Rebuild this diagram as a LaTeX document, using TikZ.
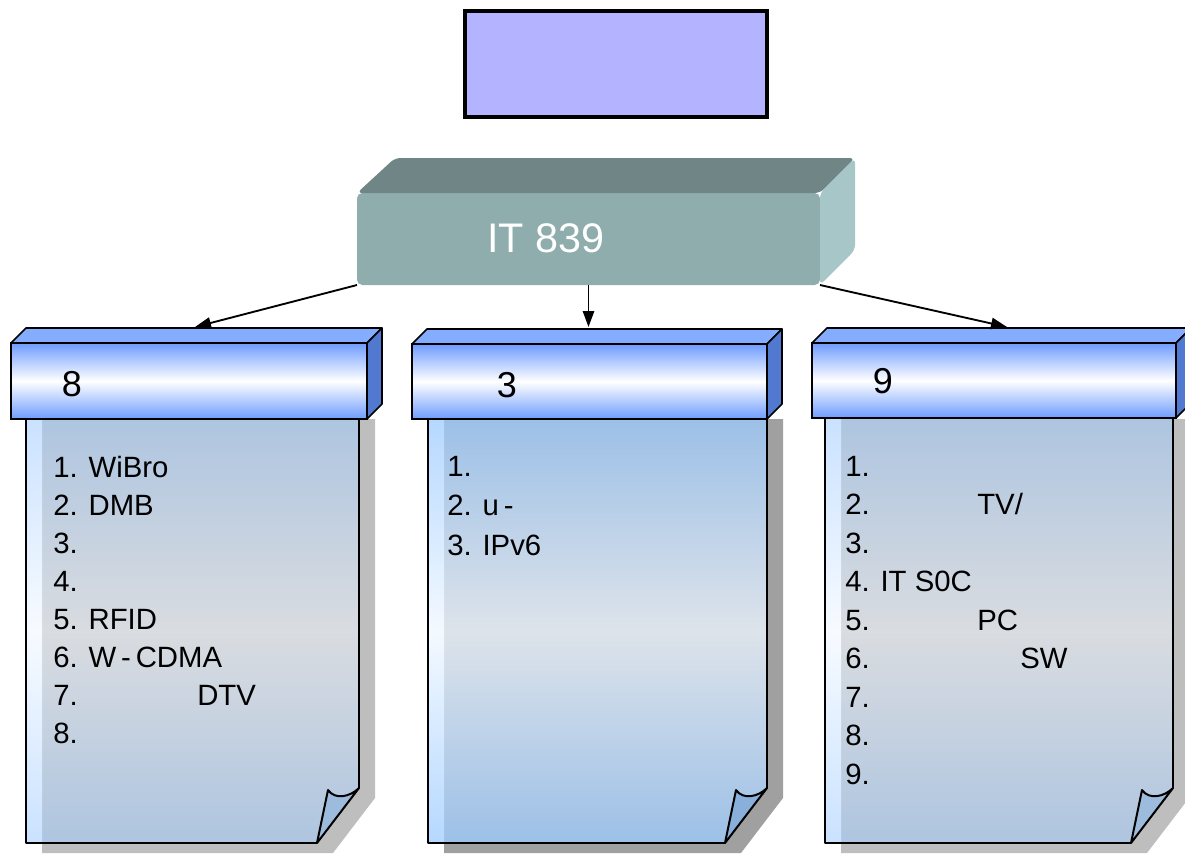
\documentclass[tikz,border=0pt]{standalone}
\usepackage{fontspec}
\setmainfont{Liberation Sans}
\usetikzlibrary{calc,arrows.meta}
\definecolor{titlefill}{HTML}{B3B3FF}
\definecolor{itfront}{HTML}{8FADAD}
\definecolor{ittop}{HTML}{708586}
\definecolor{itright}{HTML}{A6C6C8}
\definecolor{hdrtopc}{HTML}{84ACFF}
\definecolor{hdrrightc}{HTML}{5079CF}
\definecolor{hdrblue}{HTML}{6E9CFF}
\definecolor{bodyA}{HTML}{AEC5E0}
\definecolor{bodyAm}{HTML}{D9DCE0}
\definecolor{bodyB}{HTML}{9CC0E7}
\definecolor{bodyBm}{HTML}{DDE3EA}
\definecolor{stripeA}{HTML}{CAE2FF}
\definecolor{stripeB}{HTML}{B5D8FF}
\definecolor{curlA}{HTML}{9DBCDD}
\definecolor{curlB}{HTML}{88B0DB}
\definecolor{shadowA}{HTML}{BEBEBE}
\definecolor{shadowB}{HTML}{A0A0A0}
\newcommand{\drawdoc}[7]{%
  % #1 L, #2 R, #3 shadow, #4 body edge, #5 body middle, #6 stripe, #7 curl
  \fill[#3] ({#1+16},419) -- ({#2+16},419) -- ({#2+16},798) -- ({#2-26},853) -- ({#1+16},853) -- cycle;
  \path[top color=#4, bottom color=#4, middle color=#5] (#1,419) -- (#2,419) -- (#2,788) -- ({#2-42},843) -- (#1,843) -- cycle;
  \path[top color=#6, bottom color=#6, middle color=white!85!#6] (#1,419) rectangle ({#1+16},843);
  \draw[docline] (#1,419) -- (#1,843) -- ({#2-42},843);
  \draw[docline] (#2,419) -- (#2,788);
  \draw[docline, fill=#7] (#2,788) .. controls ({#2-9},797) and ({#2-24},800) .. ({#2-31},790) -- ({#2-42},843) -- cycle;
}
\newcommand{\hdrfaces}[1]{%
  \draw[hdredge, fill=hdrtopc] (#1.north west) -- ++(15,-15) -- ($(#1.north east)+(15,-15)$) -- (#1.north east) -- cycle;
  \draw[hdredge, fill=hdrrightc] (#1.north east) -- ++(15,-15) -- ($(#1.south east)+(15,-15)$) -- (#1.south east) -- cycle;
}
\begin{document}
\begin{tikzpicture}[x=0.75pt,y=-0.75pt,
  docline/.style={line width=1.5pt, line join=round},
  hdredge/.style={line width=1.2pt, line join=round},
  hdrbox/.style={draw, line width=1.2pt, outer sep=0pt, inner sep=0pt,
    top color=hdrblue, bottom color=hdrblue, middle color=white},
  listtxt/.style={anchor=base west, inner sep=0pt, font=\fontsize{22}{26}\selectfont},
  hdrtxt/.style={inner sep=0pt, font=\fontsize{27}{32}\selectfont},
  conn/.style={line width=1.4pt, -{Triangle[length=12pt,width=8.5pt]}}]
\useasboundingbox (0,0) rectangle (1185,854);
\clip (0,0) rectangle (1185,854);

% document pages
\drawdoc{26}{359}{shadowA}{bodyA}{bodyAm}{stripeA}{curlA}
\drawdoc{428}{767}{shadowB}{bodyB}{bodyBm}{stripeB}{curlB}
\drawdoc{825}{1173}{shadowA}{bodyA}{bodyAm}{stripeA}{curlA}

% headers
\node[hdrbox, minimum width=267pt, minimum height=57pt] (hl) at (189,381) {};
\hdrfaces{hl}
\node[hdrbox, minimum width=266.25pt, minimum height=56.25pt] (hm) at (589.5,381.5) {};
\hdrfaces{hm}
\node[hdrbox, minimum width=273pt, minimum height=56.25pt] (hr) at (994,380.5) {};
\hdrfaces{hr}
\node[hdrtxt] (hltxt) at (72,384) {8};
\node[hdrtxt] (hmtxt) at (507,385) {3};
\node[hdrtxt] (hrtxt) at (883,381) {9};

% IT 839 box
\node[fill=itfront, outer sep=0pt, inner sep=0pt, rounded corners=4pt,
  minimum width=347.25pt, minimum height=69pt] (it) at (588.5,239) {};
\fill[ittop, rounded corners=4pt] (it.north west) -- ++(38,-35) -- ($(it.north east)+(35,-35)$) -- (it.north east) -- cycle;
\fill[itright, rounded corners=4pt] (it.north east) -- ++(35,-35) -- ($(it.north east)+(35,57)$) -- (it.south east) -- cycle;
\node[inner sep=0pt, text=white, font=\fontsize{31}{36}\selectfont] (ittxt) at (546,238) {IT 839};

% title box
\node[draw, line width=3pt, fill=titlefill, outer sep=0pt,
  minimum width=226.5pt, minimum height=79.5pt] (title) at (616,64) {};

% connectors
\coordinate (tipl) at (195,327);
\coordinate (tipm) at (588.5,327);
\coordinate (tipr) at (1007,327);
\draw[conn] (it.south west) -- (tipl);
\draw[conn] (it.south) -- (tipm);
\draw[conn] (it.south east) -- (tipr);

% left list
\node[listtxt] (l1) at (53,477) {1. WiBro};
\node[listtxt] (l2) at (53,515) {2. DMB};
\node[listtxt] (l3) at (53,553) {3.};
\node[listtxt] (l4) at (53,591) {4.};
\node[listtxt] (l5) at (53,629) {5. RFID};
\node[listtxt] (l6) at (53,667) {6. W\,-\,CDMA};
\node[listtxt] (l7) at (53,705) {7.};
\node[listtxt] (l7b) at (197,705) {DTV};
\node[listtxt] (l8) at (53,743) {8.};

% middle list
\node[listtxt] (m1) at (447,476) {1.};
\node[listtxt] (m2) at (447,515.5) {2. u\,-};
\node[listtxt] (m3) at (447,555) {3. IPv6};

% right list
\node[listtxt] (r1) at (845,476) {1.};
\node[listtxt] (r2) at (845,514.5) {2.};
\node[listtxt] (r2b) at (977,514.5) {TV/};
\node[listtxt] (r3) at (845,553) {3.};
\node[listtxt] (r4) at (845,591.5) {4. IT S0C};
\node[listtxt] (r5) at (845,630) {5.};
\node[listtxt] (r5b) at (977,630) {PC};
\node[listtxt] (r6) at (845,668.5) {6.};
\node[listtxt] (r6b) at (1020,668.5) {SW};
\node[listtxt] (r7) at (845,707) {7.};
\node[listtxt] (r8) at (845,745.5) {8.};
\node[listtxt] (r9) at (845,784) {9.};
\end{tikzpicture}
\end{document}
